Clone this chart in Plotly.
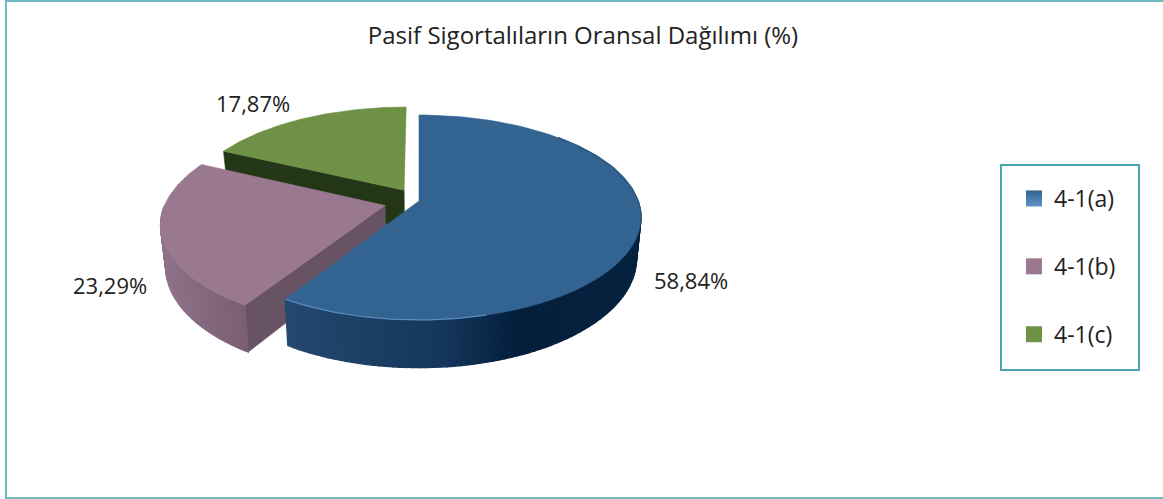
import math
import plotly.graph_objects as go

TITLE = "Pasif Sigortalıların Oransal Dağılımı (%)"
categories = ["4-1(a)", "4-1(b)", "4-1(c)"]
values = [58.84, 23.29, 17.87]
pulls = [0.0, 0.16, 0.13]

top_colors = ["#326391", "#9a7890", "#6f9146"]
cut_colors = [None, "#675364", "#233616"]
wall_stops = [
    [(0.0, "#24486e"), (0.45, "#14365a"), (0.65, "#041f3c"), (1.0, "#05233f")],
    [(0.0, "#8f7389"), (1.0, "#7a5e72")],
    None,
]
label_xy = [(691, 280), (110, 285), (253, 103)]

# projection of the tilted pie
CX, CY, RX, RY, PERSP, DEPTH, SHRINK = 419, 201, 219, 99.8, 0.161, 40, 0.98
FONT = "Open Sans"
TEAL = "#4aa5aa"


def project(X, Y, down=False):
    s = 1 / (1 + PERSP * Y)
    x = RX * X * s
    y = CY - RY * Y * s
    if down:
        return CX + x * SHRINK, y + DEPTH * s
    return CX + x, y


def rim(t, off):
    r = math.radians(t)
    return off[0] + math.sin(r), off[1] + math.cos(r)


def hexmix(a, b, f):
    ca = [int(a[i:i + 2], 16) for i in (1, 3, 5)]
    cb = [int(b[i:i + 2], 16) for i in (1, 3, 5)]
    return "#" + "".join(f"{round(p + (q - p) * f):02x}" for p, q in zip(ca, cb))


def ramp(stops, f):
    for (f0, c0), (f1, c1) in zip(stops, stops[1:]):
        if f <= f1:
            return hexmix(c0, c1, (f - f0) / (f1 - f0))
    return stops[-1][1]


def poly(pts, color, width=0.6):
    return go.Scatter(
        x=[p[0] for p in pts] + [pts[0][0]],
        y=[p[1] for p in pts] + [pts[0][1]],
        mode="lines", fill="toself", fillcolor=color,
        line=dict(color=color, width=width),
        hoverinfo="skip", showlegend=False,
    )


# angular spans, clockwise from 12 o'clock
total = sum(values)
spans, acc = [], 0.0
for v in values:
    spans.append((acc, acc + v / total * 360))
    acc += v / total * 360

offsets = []
for (a, b), d in zip(spans, pulls):
    m = math.radians((a + b) / 2)
    offsets.append((d * math.sin(m), d * math.cos(m)))

fig = go.Figure()


def draw_slice(i):
    a, b = spans[i]
    off = offsets[i]
    steps = 90
    arc = [a + (b - a) * k / steps for k in range(steps + 1)]
    if i in (1, 2):
        p0 = rim(a, off)
        quad = [project(*p0), project(*off), project(*off, down=True), project(*p0, down=True)]
        fig.add_trace(poly(quad, cut_colors[i]))
    # outer wall, shaded in strips
    if wall_stops[i]:
        lo, hi = max(a, 90), min(b, 270)
        n = 80
        ts = [lo + (hi - lo) * k / n for k in range(n + 1)]
        xs = [project(*rim(t, off))[0] for t in ts]
        xmin, xmax = min(xs), max(xs)
        for t0, t1 in zip(ts, ts[1:]):
            p0, p1 = rim(t0, off), rim(t1, off)
            xm = (project(*p0)[0] + project(*p1)[0]) / 2
            f = (xm - xmin) / (xmax - xmin)
            quad = [project(*p0), project(*p1), project(*p1, down=True), project(*p0, down=True)]
            fig.add_trace(poly(quad, ramp(wall_stops[i], f), 1.4))
    # top face
    pts = [project(*off)] + [project(*rim(t, off)) for t in arc]
    fig.add_trace(poly(pts, top_colors[i]))


for i in (2, 1, 0):
    draw_slice(i)


def rim_line(t0, t1, color, width):
    ts = [t0 + (t1 - t0) * k / 40 for k in range(41)]
    pts = [project(*rim(t, offsets[0])) for t in ts]
    fig.add_trace(go.Scatter(x=[p[0] for p in pts], y=[p[1] for p in pts], mode="lines",
                             line=dict(color=color, width=width), hoverinfo="skip", showlegend=False))


rim_line(45, 100, "#2d5a84", 1.8)
rim_line(165, spans[0][1], "#5a8cbc", 1.2)

# legend entries
for n, (name, c) in enumerate(zip(categories, top_colors)):
    marker = dict(symbol="square", size=16, color=c)
    if n == 0:
        marker["gradient"] = dict(type="vertical", color="#5f93c8")
    fig.add_trace(go.Scatter(x=[None], y=[None], mode="markers", name=name, legendgroup=name, marker=marker))

for v, (x, y) in zip(values, label_xy):
    fig.add_annotation(x=x, y=y, xref="x", yref="y", showarrow=False,
                       text=f"{v:.2f}%".replace(".", ","),
                       font=dict(family=FONT, size=22, color="#222222"))

# outer frame, open on the right, and the legend box
fig.add_shape(type="rect", x0=6, x1=1175, y0=1, y1=498, xref="x", yref="y",
              line=dict(color="#6dbac0", width=2), layer="below")
fig.add_shape(type="rect", x0=1001, x1=1139, y0=165, y1=370, xref="x", yref="y",
              line=dict(color=TEAL, width=2), layer="below")

fig.update_layout(
    width=1163, height=499, autosize=False,
    margin=dict(l=0, r=0, t=0, b=0),
    paper_bgcolor="white", plot_bgcolor="white",
    title=dict(text=TITLE, x=583 / 1163, xanchor="center", y=1 - 36 / 499, yanchor="middle",
               font=dict(family=FONT, size=24, color="#222222")),
    xaxis=dict(range=[0, 1163], visible=False, fixedrange=True),
    yaxis=dict(range=[499, 0], visible=False, fixedrange=True),
    legend=dict(x=1014 / 1163, y=1 - 177 / 499, xanchor="left", yanchor="top",
                borderwidth=0, bgcolor="rgba(0,0,0,0)",
                font=dict(family=FONT, size=23, color="#222222"),
                tracegroupgap=35, traceorder="grouped", itemsizing="trace"),
    showlegend=True,
)

fig.write_html("out.html", config={"displayModeBar": False},
               post_script="document.body.style.margin='0';window.dispatchEvent(new Event('resize'));")
